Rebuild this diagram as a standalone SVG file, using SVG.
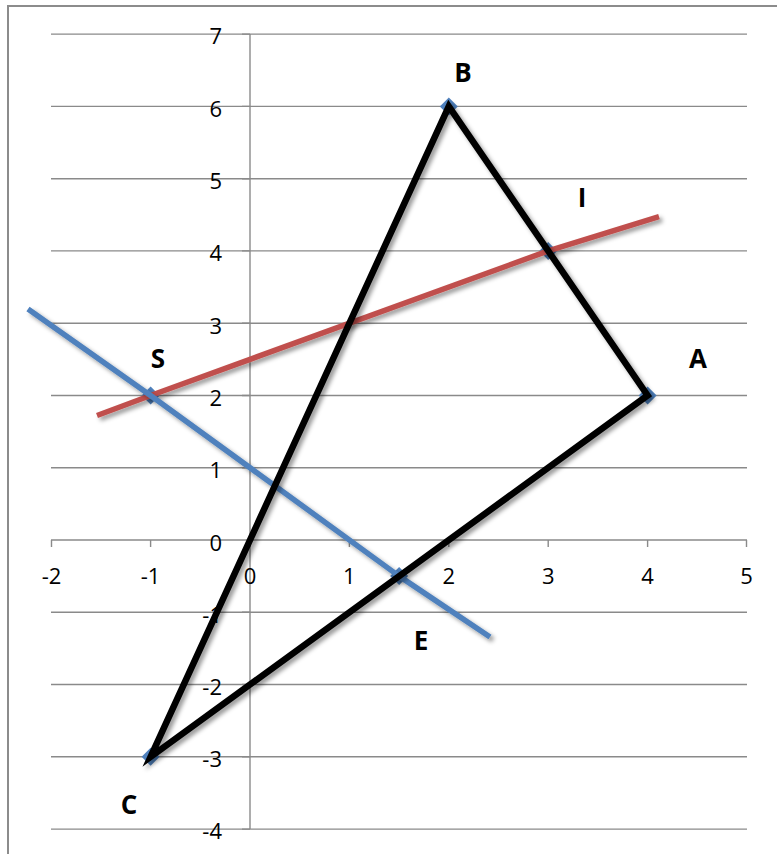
<svg xmlns="http://www.w3.org/2000/svg" width="777" height="854" viewBox="0 0 777 854">
<defs>
<filter id="sh" x="-10%" y="-10%" width="120%" height="120%">
<feDropShadow dx="3" dy="3" stdDeviation="2" flood-color="#000" flood-opacity="0.4"/>
</filter>
<path id="dia" d="M0,-9 L9,0 L0,9 L-9,0 Z"/>
</defs>
<style>
.grid{stroke:#8a8a8a;stroke-width:1.4;fill:none}
.frame{stroke:#8c8c8c;stroke-width:2;fill:none}
.tick{font-family:"Open Sans","Liberation Sans",sans-serif;font-size:22px;fill:#000}
.yl{text-anchor:end}
.xl{text-anchor:middle}
.lbl{font-family:"Open Sans","Liberation Sans",sans-serif;font-size:26px;font-weight:bold;fill:#000;text-anchor:middle}
.mk{fill:#4F81BD}
.tri{stroke:#000;stroke-width:6.5;fill:none;stroke-linejoin:miter;stroke-linecap:butt}
.red{stroke:#C0504D;stroke-width:5.5;fill:none;stroke-linejoin:round}
.blue{stroke:#4F81BD;stroke-width:5.5;fill:none;stroke-linejoin:round}
</style>
<rect width="777" height="854" fill="#fff"/>
<path class="frame" d="M8,854 V6 H777"/>
<g id="grid">
<path class="grid" d="M51,34.1H747 M51,106.4H747 M51,178.7H747 M51,250.9H747 M51,323.2H747 M51,395.5H747 M51,467.7H747 M51,612.3H747 M51,684.5H747 M51,756.8H747 M51,829.1H747"/>
<path class="grid" d="M51,540H747"/>
<path class="grid" d="M250,34.1V829.1"/>
<path class="grid" d="M242,34.1H250 M242,106.4H250 M242,178.7H250 M242,250.9H250 M242,323.2H250 M242,395.5H250 M242,467.7H250 M242,612.3H250 M242,684.5H250 M242,756.8H250 M242,829.1H250"/>
<path class="grid" d="M51.5,540V547 M150.6,540V547 M250,540V547 M349.4,540V547 M448.8,540V547 M548.2,540V547 M647.6,540V547 M746.5,540V547"/>
</g>
<g id="ylabels" class="tick yl">
<text x="222" y="44">7</text>
<text x="222" y="116.5">6</text>
<text x="222" y="189">5</text>
<text x="222" y="261">4</text>
<text x="222" y="333.5">3</text>
<text x="222" y="405.5">2</text>
<text x="222" y="478">1</text>
<text x="222" y="550.5">0</text>
<text x="222" y="622.5">-1</text>
<text x="222" y="694.5">-2</text>
<text x="222" y="767">-3</text>
<text x="222" y="839">-4</text>
</g>
<g id="xlabels" class="tick xl">
<text x="51.5" y="584">-2</text>
<text x="150.6" y="584">-1</text>
<text x="250" y="584">0</text>
<text x="349.4" y="584">1</text>
<text x="448.8" y="584">2</text>
<text x="548.2" y="584">3</text>
<text x="647.6" y="584">4</text>
<text x="746.5" y="584">5</text>
</g>
<g id="node-B"><use href="#dia" class="mk" x="448.8" y="106.4"/><text class="lbl" x="463" y="82">B</text></g>
<g id="node-I"><use href="#dia" class="mk" x="548.2" y="250.9"/><text class="lbl" x="582" y="207">I</text></g>
<g id="node-A"><use href="#dia" class="mk" x="647.6" y="395.5"/><text class="lbl" x="698" y="368">A</text></g>
<g id="node-S"><use href="#dia" class="mk" x="150.6" y="395.5"/><text class="lbl" x="158" y="368">S</text></g>
<g id="node-E"><use href="#dia" class="mk" x="399.1" y="576.1"/><text class="lbl" x="421" y="650">E</text></g>
<g id="node-C"><use href="#dia" class="mk" x="150.6" y="756.8"/><text class="lbl" x="129" y="814">C</text></g>
<g id="connectors">
<polyline class="red" filter="url(#sh)" points="97,415.5 150.6,395.5 548.2,250.9 659,216.7"/>
<polyline class="blue" filter="url(#sh)" points="28,309 150.6,395.5 399.1,576.1 490,637"/>
<polygon class="tri" filter="url(#sh)" points="448.8,106.4 548.2,250.9 647.6,395.5 150.6,756.8"/>
</g>
</svg>
